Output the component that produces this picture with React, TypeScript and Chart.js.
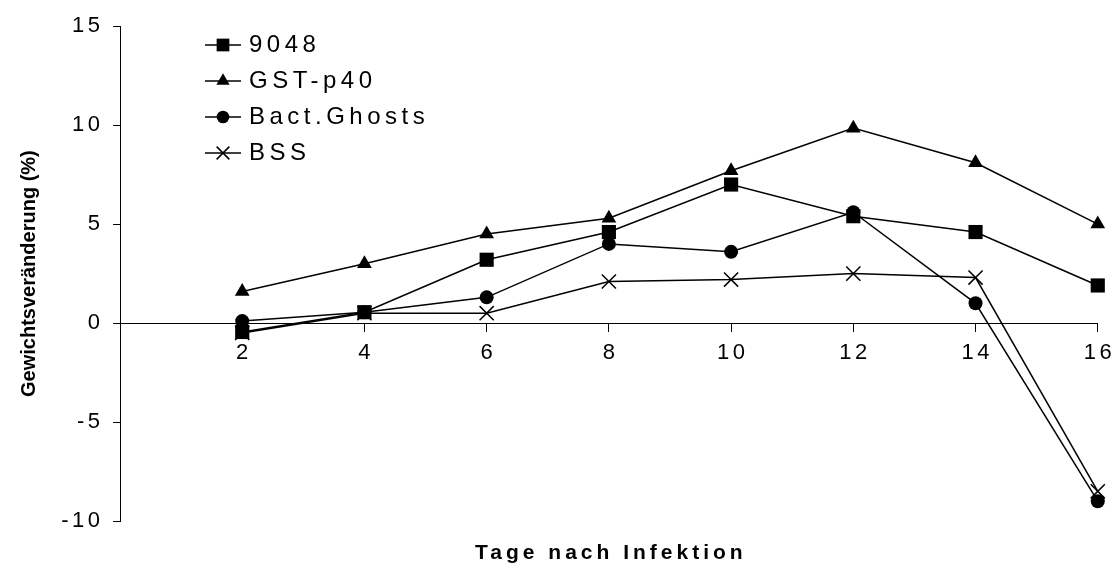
import React, { useEffect, useRef } from 'react';
import { Chart, registerables, LinearScale } from 'chart.js';

// Weight change per day after infection, one list per group
const days = [2, 4, 6, 8, 10, 12, 14, 16];
const values9048 = [-0.45, 0.55, 3.2, 4.6, 7.0, 5.4, 4.6, 1.9];
const valuesGstP40 = [1.6, 3.0, 4.5, 5.3, 7.7, 9.85, 8.1, 5.0];
const valuesBactGhosts = [0.1, 0.55, 1.3, 4.0, 3.6, 5.6, 1.0, -9.0];
const valuesBss = [-0.5, 0.5, 0.5, 2.1, 2.2, 2.5, 2.3, -8.5];
const seriesNames = ['9048', 'GST-p40', 'Bact.Ghosts', 'BSS'];
const xTickStep = 2;
const yTickStep = 5;
const xRange = [0, 16];
const yRange = [-10, 15];
const xTitle = 'Tage nach Infektion';
const yTitle = 'Gewichtsveränderung (%)';

const FONT = '"Liberation Sans", Arial, Helvetica, sans-serif';

type MarkerStyle = 'rect' | 'triangle' | 'circle' | 'crossRot';
const markerStyles: MarkerStyle[] = ['rect', 'triangle', 'circle', 'crossRot'];
const markerRadius: Record<MarkerStyle, number> = { rect: 10, triangle: 8.5, circle: 7, crossRot: 10 };

// letter spacing (px) used for tick labels and titles of each scale
const SPACING: Record<string, { ticks: number; title: number }> = {
  x: { ticks: 3.5, title: 0 },
  y: { ticks: 3.5, title: 0 },
  x2: { ticks: 0, title: 4 },
};
const LEGEND_SPACING = 4.5;
const LEGEND_LEFT = 197;
const LEGEND_TOP = 21;

class SpacedLinearScale extends LinearScale {
  static id = 'spacedLinear';

  drawLabels(chartArea: any) {
    const ls = SPACING[this.id]?.ticks ?? 0;
    const ctx = this.ctx;
    ctx.save();
    (ctx as any).letterSpacing = ls + 'px';
    ctx.translate(this.isHorizontal() ? ls / 2 : ls, 0);
    super.drawLabels(chartArea);
    ctx.restore();
  }

  drawTitle() {
    const ls = SPACING[this.id]?.title ?? 0;
    const ctx = this.ctx;
    ctx.save();
    (ctx as any).letterSpacing = ls + 'px';
    if (this.isHorizontal()) ctx.translate(ls / 2, 0);
    super.drawTitle();
    ctx.restore();
  }
}

Chart.register(...registerables, SpacedLinearScale);

function drawMarker(ctx: CanvasRenderingContext2D, style: MarkerStyle, x: number, y: number, r: number) {
  ctx.beginPath();
  if (style === 'rect') {
    const s = r * Math.SQRT1_2;
    ctx.rect(x - s, y - s, 2 * s, 2 * s);
    ctx.fill();
  } else if (style === 'triangle') {
    ctx.moveTo(x, y - r);
    ctx.lineTo(x + r * Math.sin((2 * Math.PI) / 3), y - r * Math.cos((2 * Math.PI) / 3));
    ctx.lineTo(x + r * Math.sin((4 * Math.PI) / 3), y - r * Math.cos((4 * Math.PI) / 3));
    ctx.closePath();
    ctx.fill();
  } else if (style === 'circle') {
    ctx.arc(x, y, r, 0, Math.PI * 2);
    ctx.fill();
  } else {
    const o = r * Math.SQRT1_2;
    ctx.moveTo(x - o, y - o);
    ctx.lineTo(x + o, y + o);
    ctx.moveTo(x - o, y + o);
    ctx.lineTo(x + o, y - o);
    ctx.stroke();
  }
}

function makeLegendIcon(style: MarkerStyle): HTMLCanvasElement {
  const c = document.createElement('canvas');
  c.width = 36;
  c.height = 20;
  const ctx = c.getContext('2d')!;
  ctx.strokeStyle = '#000';
  ctx.fillStyle = '#000';
  ctx.lineWidth = 1.5;
  ctx.beginPath();
  ctx.moveTo(0, 10);
  ctx.lineTo(36, 10);
  ctx.stroke();
  drawMarker(ctx, style, 18, 10, markerRadius[style] * 0.9);
  return c;
}

const legendPlacement = {
  id: 'legendPlacement',
  afterLayout(chart: any) {
    const lg = chart.legend;
    if (!lg) return;
    const h = lg.height;
    // leave room for the letter-spaced labels so nothing gets clipped
    const w = lg.width + 200;
    lg.left = LEGEND_LEFT;
    lg.right = LEGEND_LEFT + w;
    lg.width = w;
    lg.top = LEGEND_TOP;
    lg.bottom = LEGEND_TOP + h;
  },
  beforeDraw(chart: any) {
    chart.ctx.letterSpacing = LEGEND_SPACING + 'px';
  },
  afterDraw(chart: any) {
    chart.ctx.letterSpacing = '0px';
  },
};

export default function App() {
  const canvasRef = useRef<HTMLCanvasElement>(null);

  useEffect(() => {
    const canvas = canvasRef.current;
    if (!canvas) return;

    Chart.defaults.font.family = FONT;
    Chart.defaults.color = '#000';

    const allSeries = [values9048, valuesGstP40, valuesBactGhosts, valuesBss];
    const icons = markerStyles.map((s) => makeLegendIcon(s));

    const datasets = allSeries.map((vals, i) => {
      const style = markerStyles[i];
      return {
        label: seriesNames[i],
        data: days.map((d, j) => ({ x: d, y: vals[j] })),
        borderColor: '#000',
        backgroundColor: '#000',
        borderWidth: 1.5,
        pointStyle: style,
        pointRadius: markerRadius[style],
        pointHoverRadius: markerRadius[style],
        pointBackgroundColor: '#000',
        pointBorderColor: '#000',
        pointBorderWidth: style === 'crossRot' ? 1.5 : 0,
        tension: 0,
        clip: false as any,
      };
    });

    const chart = new Chart(canvas, {
      type: 'line',
      data: { datasets },
      options: {
        responsive: true,
        maintainAspectRatio: false,
        animation: false,
        layout: { padding: { left: 0, top: 21, right: 21, bottom: 0 } },
        plugins: {
          tooltip: { enabled: false },
          legend: {
            position: 'chartArea' as any,
            align: 'start',
            labels: {
              usePointStyle: true,
              pointStyleWidth: 28,
              padding: 12,
              color: '#000',
              font: { size: 24, family: FONT },
              generateLabels: () =>
                seriesNames.map((name, i) => ({
                  text: name,
                  pointStyle: icons[i] as any,
                  fillStyle: '#000',
                  strokeStyle: '#000',
                  lineWidth: 0,
                  hidden: false,
                  datasetIndex: i,
                })),
            },
          },
        },
        scales: {
          x: {
            type: 'spacedLinear' as any,
            position: { y: 0 } as any,
            min: xRange[0],
            max: xRange[1],
            ticks: {
              stepSize: xTickStep,
              color: '#000',
              font: { size: 22, family: FONT },
              padding: 9,
              maxRotation: 0,
              autoSkip: false,
              callback: (v: any) => (Number(v) === xRange[0] ? '' : String(v)),
            },
            grid: {
              display: true,
              drawOnChartArea: false,
              drawTicks: true,
              tickLength: 8,
              color: '#000',
              lineWidth: 1,
            },
            border: { display: true, color: '#000', width: 1 },
          },
          x2: {
            type: 'spacedLinear' as any,
            position: 'bottom',
            min: xRange[0],
            max: xRange[1],
            ticks: { display: false },
            grid: { display: false, drawTicks: false },
            border: { display: false },
            title: {
              display: true,
              text: xTitle,
              color: '#000',
              font: { size: 21, weight: 'bold', family: FONT },
              padding: { top: 0, bottom: 5 },
            },
            afterFit: (scale: any) => {
              scale.height = 50;
            },
          },
          y: {
            type: 'spacedLinear' as any,
            position: 'left',
            min: yRange[0],
            max: yRange[1],
            ticks: {
              stepSize: yTickStep,
              color: '#000',
              font: { size: 22, family: FONT },
              padding: 13,
            },
            grid: {
              display: true,
              drawOnChartArea: false,
              drawTicks: true,
              tickLength: 7,
              color: '#000',
              lineWidth: 1,
            },
            border: { display: true, color: '#000', width: 1 },
            title: {
              display: true,
              text: yTitle,
              color: '#000',
              font: { size: 20, weight: 'bold', family: FONT },
              padding: { top: 17, bottom: 0 },
            },
            afterFit: (scale: any) => {
              scale.width = 120;
            },
          },
        },
      },
      plugins: [legendPlacement],
    });

    return () => chart.destroy();
  }, []);

  return (
    <div style={{ position: 'absolute', left: 0, top: 0, width: 1119, height: 571 }}>
      <canvas ref={canvasRef} />
    </div>
  );
}
